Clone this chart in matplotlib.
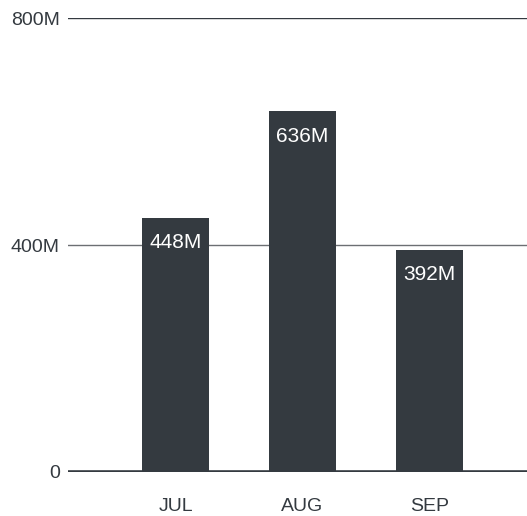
import matplotlib.pyplot as plt

plt.rcParams['font.family'] = ['Liberation Sans', 'DejaVu Sans']

# data
months = ['JUL', 'AUG', 'SEP']
values = [448, 636, 392]  # millions
y_ticks = [0, 400, 800]
y_tick_labels = ['0', '400M', '800M']

dark = '#343a40'

fig = plt.figure(figsize=(5.27, 5.16), dpi=100)
ax = fig.add_axes([68 / 527, 44 / 516, 1 - 68 / 527, (472 - 18.3) / 516])

x = range(len(months))

# gridlines
for t in y_ticks[1:]:
    ax.axhline(t, color=dark if t == 800 else '#6c6f73', lw=1.0, zorder=1)
ax.axhline(0, color=dark, lw=2.6, zorder=1)

bars = ax.bar(x, values, width=0.527, color=dark, zorder=2)
for xi, v in zip(x, values):
    ax.annotate(f'{v}M', (xi, v), xytext=(0, -18), textcoords='offset points',
                ha='center', va='center', color='white', fontsize=15, zorder=3)

ax.set_ylim(0, 800)
ax.set_xlim(-0.848, 2.77)
ax.set_yticks(y_ticks)
ax.set_yticklabels(y_tick_labels)
ax.set_xticks(list(x))
ax.set_xticklabels(months)
ax.tick_params(axis='y', length=0, pad=6, labelsize=14, labelcolor=dark)
ax.tick_params(axis='x', length=0, pad=19, labelsize=14, labelcolor=dark)
for s in ax.spines.values():
    s.set_visible(False)

fig.savefig('out.png', dpi=100)
